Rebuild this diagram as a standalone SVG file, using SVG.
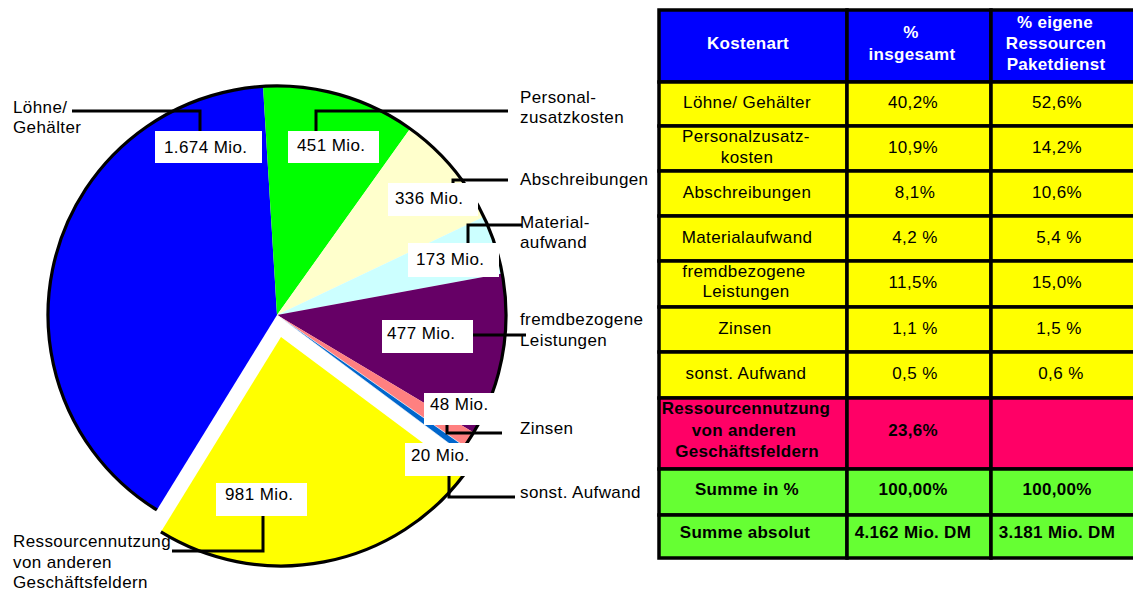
<svg xmlns="http://www.w3.org/2000/svg" width="1133" height="594" viewBox="0 0 1133 594">
<style>
text{font-family:"Liberation Sans",Arial,sans-serif;font-size:17px;fill:#000;letter-spacing:0.4px}
.b{font-weight:bold;letter-spacing:0.3px}
.w{fill:#fff}
.m{text-anchor:middle}
.box{fill:#fff;stroke:none}
.lead{fill:none;stroke:#000;stroke-width:3}
.outline{fill:none;stroke:#000;stroke-width:3.2;stroke-linejoin:round}
.cell{stroke:#000;stroke-width:3.5}
.hd{fill:#0000ff}.ye{fill:#ffff00}.pk{fill:#ff0066}.gr{fill:#66ff33}
</style>
<rect width="1133" height="594" fill="#fff"/>
<g id="pie">
 <path id="slice-loehne" d="M277,315 L156.89,509.98 A229,229 0 0,1 263.02,86.43 Z" fill="#0000ff"/>
 <path id="slice-personal" d="M277,315 L263.02,86.43 A229,229 0 0,1 410.07,128.64 Z" fill="#00ff00"/>
 <path id="slice-abschreibungen" d="M277,315 L410.07,128.64 A229,229 0 0,1 483.88,216.80 Z" fill="#ffffcc"/>
 <path id="slice-material" d="M277,315 L483.88,216.80 A229,229 0 0,1 502.22,273.58 Z" fill="#ccffff"/>
 <path id="slice-fremd" d="M277,315 L502.22,273.58 A229,229 0 0,1 473.58,432.45 Z" fill="#660066"/>
 <path id="slice-zinsen" d="M277,315 L473.58,432.45 A229,229 0 0,1 464.57,446.38 Z" fill="#ff8080"/>
 <path id="slice-sonst" d="M277,315 L464.57,446.38 A229,229 0 0,1 460.55,451.94 Z" fill="#0066cc" stroke="#fff" stroke-width="0.6"/>
 <path id="slice-ressourcen" d="M281,337 L464.55,473.94 A229,229 0 0,1 160.89,531.98 Z" fill="#ffff00"/>
 <path class="outline" d="M156.89,509.98 A229,229 0 1,1 460.55,451.94"/>
 <path class="outline" d="M464.55,473.94 A229,229 0 0,1 160.89,531.98"/>
</g>
<g id="connectors">
 <polyline class="lead" points="72,111 200,111 200,131"/>
 <polyline class="lead" points="316,131 316,111 508,111"/>
 <polyline class="lead" points="453,184 453,180 508,180"/>
 <polyline class="lead" points="468,243 468,225 522,225"/>
 <polyline class="lead" points="473,335 526,335"/>
 <polyline class="lead" points="447,425 447,433 502,433"/>
 <polyline class="lead" points="449,476 449,497 515,497"/>
 <polyline class="lead" points="263,516 263,551 172,551"/>
</g>
<g id="label-loehne">
 <rect class="box" x="155" y="131" width="107" height="32"/>
 <text x="164" y="153">1.674 Mio.</text>
 <text x="13" y="113">Löhne/</text>
 <text x="13" y="133">Gehälter</text>
</g>
<g id="label-personal">
 <rect class="box" x="288" y="131" width="91" height="32"/>
 <text x="297" y="151">451 Mio.</text>
 <text x="520" y="103">Personal-</text>
 <text x="520" y="123">zusatzkosten</text>
</g>
<g id="label-abschreibungen">
 <rect class="box" x="388" y="183" width="90" height="33"/>
 <text x="395" y="204">336 Mio.</text>
 <text x="520" y="185">Abschreibungen</text>
</g>
<g id="label-material">
 <rect class="box" x="408" y="243" width="91" height="34"/>
 <text x="416" y="265">173 Mio.</text>
 <text x="520" y="228">Material-</text>
 <text x="520" y="248">aufwand</text>
</g>
<g id="label-fremd">
 <rect class="box" x="382" y="320" width="91" height="33"/>
 <text x="387" y="339">477 Mio.</text>
 <text x="520" y="325">fremdbezogene</text>
 <text x="520" y="346">Leistungen</text>
</g>
<g id="label-zinsen">
 <rect class="box" x="424" y="393" width="73" height="32"/>
 <text x="430" y="410">48 Mio.</text>
 <text x="520" y="434">Zinsen</text>
</g>
<g id="label-sonst">
 <rect class="box" x="405" y="443" width="68" height="33"/>
 <text x="411" y="461">20 Mio.</text>
 <text x="520" y="498">sonst. Aufwand</text>
</g>
<g id="label-ressourcen">
 <rect class="box" x="216" y="483" width="91" height="33"/>
 <text x="225" y="500">981 Mio.</text>
 <text x="13" y="547">Ressourcennutzung</text>
 <text x="13" y="568">von anderen</text>
 <text x="13" y="588">Geschäftsfeldern</text>
</g>
<g id="table">
 <g id="row-header">
  <rect class="cell hd" x="659" y="10" width="188" height="72"/>
  <rect class="cell hd" x="847" y="10" width="144" height="72"/>
  <rect class="cell hd" x="991" y="10" width="150" height="72"/>
  <text class="b w m" x="748" y="49">Kostenart</text>
  <text class="b w m" x="911" y="38">%</text>
  <text class="b w m" x="912" y="60">insgesamt</text>
  <text class="b w m" x="1055" y="28">% eigene</text>
  <text class="b w m" x="1056" y="49">Ressourcen</text>
  <text class="b w m" x="1056" y="70">Paketdienst</text>
 </g>
 <g id="row-loehne">
  <rect class="cell ye" x="659" y="82" width="188" height="44"/>
  <rect class="cell ye" x="847" y="82" width="144" height="44"/>
  <rect class="cell ye" x="991" y="82" width="150" height="44"/>
  <text class="m" x="747" y="108">Löhne/ Gehälter</text>
  <text class="m" x="913" y="108">40,2%</text>
  <text class="m" x="1057" y="108">52,6%</text>
 </g>
 <g id="row-personal">
  <rect class="cell ye" x="659" y="126" width="188" height="45"/>
  <rect class="cell ye" x="847" y="126" width="144" height="45"/>
  <rect class="cell ye" x="991" y="126" width="150" height="45"/>
  <text class="m" x="746" y="142">Personalzusatz-</text>
  <text class="m" x="747" y="163">kosten</text>
  <text class="m" x="913" y="153">10,9%</text>
  <text class="m" x="1057" y="153">14,2%</text>
 </g>
 <g id="row-abschreibungen">
  <rect class="cell ye" x="659" y="171" width="188" height="45"/>
  <rect class="cell ye" x="847" y="171" width="144" height="45"/>
  <rect class="cell ye" x="991" y="171" width="150" height="45"/>
  <text class="m" x="747" y="198">Abschreibungen</text>
  <text class="m" x="915" y="198">8,1%</text>
  <text class="m" x="1057" y="198">10,6%</text>
 </g>
 <g id="row-material">
  <rect class="cell ye" x="659" y="216" width="188" height="45"/>
  <rect class="cell ye" x="847" y="216" width="144" height="45"/>
  <rect class="cell ye" x="991" y="216" width="150" height="45"/>
  <text class="m" x="747" y="243">Materialaufwand</text>
  <text class="m" x="915" y="243">4,2 %</text>
  <text class="m" x="1059" y="243">5,4 %</text>
 </g>
 <g id="row-fremd">
  <rect class="cell ye" x="659" y="261" width="188" height="46"/>
  <rect class="cell ye" x="847" y="261" width="144" height="46"/>
  <rect class="cell ye" x="991" y="261" width="150" height="46"/>
  <text class="m" x="744" y="277">fremdbezogene</text>
  <text class="m" x="746" y="297">Leistungen</text>
  <text class="m" x="913" y="288">11,5%</text>
  <text class="m" x="1057" y="288">15,0%</text>
 </g>
 <g id="row-zinsen">
  <rect class="cell ye" x="659" y="307" width="188" height="45"/>
  <rect class="cell ye" x="847" y="307" width="144" height="45"/>
  <rect class="cell ye" x="991" y="307" width="150" height="45"/>
  <text class="m" x="745" y="334">Zinsen</text>
  <text class="m" x="915" y="334">1,1 %</text>
  <text class="m" x="1059" y="334">1,5 %</text>
 </g>
 <g id="row-sonst">
  <rect class="cell ye" x="659" y="352" width="188" height="46"/>
  <rect class="cell ye" x="847" y="352" width="144" height="46"/>
  <rect class="cell ye" x="991" y="352" width="150" height="46"/>
  <text class="m" x="746" y="379">sonst. Aufwand</text>
  <text class="m" x="915" y="379">0,5 %</text>
  <text class="m" x="1061" y="379">0,6 %</text>
 </g>
 <g id="row-ressourcen">
  <rect class="cell pk" x="659" y="398" width="188" height="71"/>
  <rect class="cell pk" x="847" y="398" width="144" height="71"/>
  <rect class="cell pk" x="991" y="398" width="150" height="71"/>
  <text class="b m" x="746" y="414">Ressourcennutzung</text>
  <text class="b m" x="744" y="436">von anderen</text>
  <text class="b m" x="747" y="457">Geschäftsfeldern</text>
  <text class="b m" x="913" y="436">23,6%</text>
 </g>
 <g id="row-summe-prozent">
  <rect class="cell gr" x="659" y="469" width="188" height="46"/>
  <rect class="cell gr" x="847" y="469" width="144" height="46"/>
  <rect class="cell gr" x="991" y="469" width="150" height="46"/>
  <text class="b m" x="747" y="495">Summe in %</text>
  <text class="b m" x="913" y="495">100,00%</text>
  <text class="b m" x="1057" y="495">100,00%</text>
 </g>
 <g id="row-summe-absolut">
  <rect class="cell gr" x="659" y="515" width="188" height="43"/>
  <rect class="cell gr" x="847" y="515" width="144" height="43"/>
  <rect class="cell gr" x="991" y="515" width="150" height="43"/>
  <text class="b m" x="745" y="538">Summe absolut</text>
  <text class="b m" x="913" y="538">4.162 Mio. DM</text>
  <text class="b m" x="1057" y="538">3.181 Mio. DM</text>
 </g>
</g>
</svg>
